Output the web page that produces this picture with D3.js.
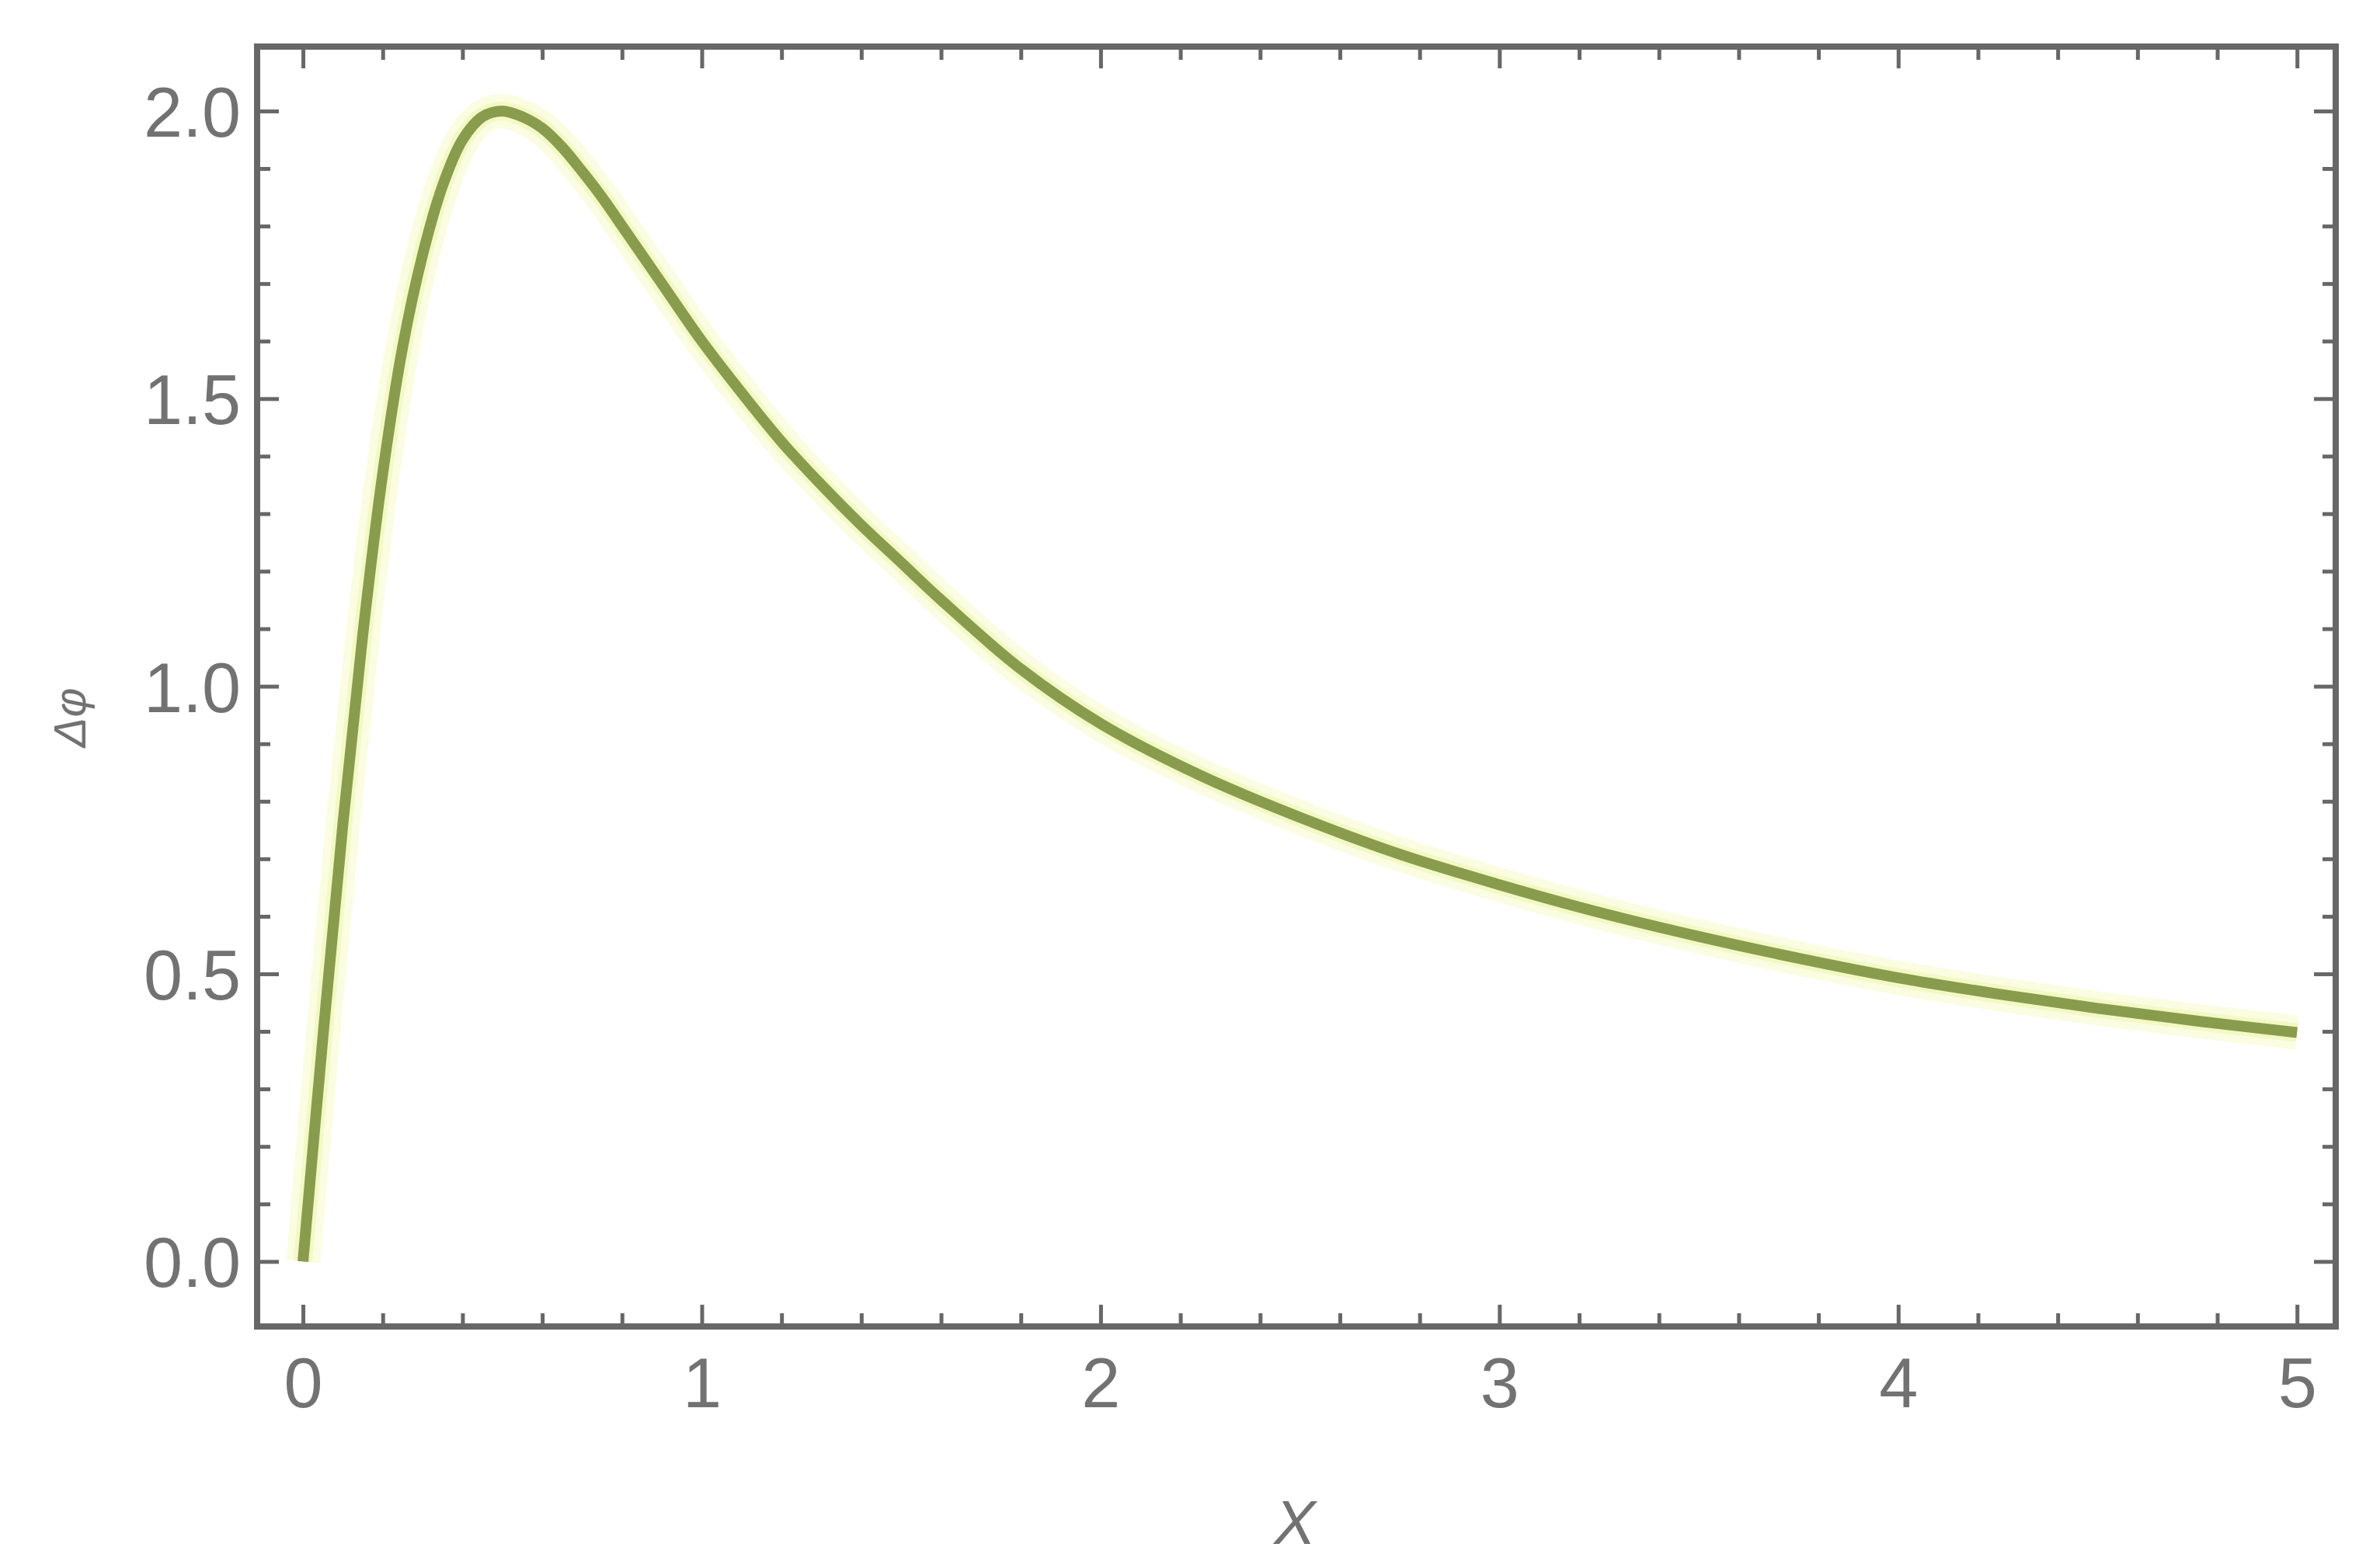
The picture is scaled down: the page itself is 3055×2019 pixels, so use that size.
<!DOCTYPE html>
<html>
<head>
<meta charset="utf-8">
<script src="https://cdn.jsdelivr.net/npm/d3@7"></script>
<style>
  html, body { margin: 0; padding: 0; background: #ffffff; }
  svg { display: block; }
</style>
</head>
<body>
<script>
// ---- data ----
const xValues = [0, 0.05, 0.1, 0.15, 0.2, 0.25, 0.3, 0.35, 0.4, 0.45, 0.5, 0.55, 0.6, 0.65, 0.7, 0.75, 0.8, 0.9,
                 1.0, 1.1, 1.2, 1.3, 1.4, 1.5, 1.6, 1.8, 2.0, 2.25, 2.5, 2.75, 3.0, 3.25, 3.5, 3.75, 4.0, 4.25, 4.5, 4.75, 5.0];
const deltaPhi = [0.00, 0.39, 0.76, 1.09, 1.37, 1.59, 1.75, 1.87, 1.95, 1.99, 2.00, 1.99, 1.97, 1.937, 1.895, 1.85, 1.80, 1.70,
                  1.60, 1.51, 1.425, 1.35, 1.28, 1.215, 1.15, 1.03, 0.935, 0.845, 0.772, 0.708, 0.655, 0.607, 0.565, 0.527, 0.493, 0.465, 0.44, 0.418, 0.398];
const xMajorTicks = [0, 1, 2, 3, 4, 5];
const xTickLabels = ["0", "1", "2", "3", "4", "5"];
const yMajorTicks = [0, 0.5, 1.0, 1.5, 2.0];
const yTickLabels = ["0.0", "0.5", "1.0", "1.5", "2.0"];
const xMinorTicks = [0.2,0.4,0.6,0.8,1.2,1.4,1.6,1.8,2.2,2.4,2.6,2.8,3.2,3.4,3.6,3.8,4.2,4.4,4.6,4.8];
const yMinorTicks = [0.1,0.2,0.3,0.4,0.6,0.7,0.8,0.9,1.1,1.2,1.3,1.4,1.6,1.7,1.8,1.9];
const xAxisLabel = "X";
const yAxisLabel = "Δφ";

// ---- layout ----
const W = 3055, H = 2019;
const frame = { left: 331, right: 3007, top: 60, bottom: 1708 };
const xDomain = [-0.115, 5.097];
const yDomain = [-0.113, 2.112];

const svg = d3.select("body").append("svg").attr("width", W).attr("height", H);

const x = d3.scaleLinear().domain(xDomain).range([frame.left, frame.right]);
const y = d3.scaleLinear().domain(yDomain).range([frame.bottom, frame.top]);

const axisColor = "#676767";
const labelColor = "#727272";
const fontFam = "'Liberation Sans', Arial, sans-serif";

const data = xValues.map((v, i) => ({ x: v, y: deltaPhi[i] }));
const line = d3.line().x(d => x(d.x)).y(d => y(d.y)).curve(d3.curveCatmullRom.alpha(0.5));

// glow / halo of the curve
svg.append("path").datum(data)
  .attr("d", line).attr("fill", "none")
  .attr("stroke", "#f6fbc8").attr("stroke-width", 44).attr("stroke-opacity", 0.55)
  .attr("stroke-linejoin", "round");
svg.append("path").datum(data)
  .attr("d", line).attr("fill", "none")
  .attr("stroke", "#eef6b0").attr("stroke-width", 24).attr("stroke-opacity", 0.6)
  .attr("stroke-linejoin", "round");
// main curve
svg.append("path").datum(data)
  .attr("d", line).attr("fill", "none")
  .attr("stroke", "#899c4e").attr("stroke-width", 14)
  .attr("stroke-linejoin", "round");

// ---- axes (ticks pointing inward on all four sides) ----
function styleAxis(g) {
  g.select(".domain").remove();
  g.selectAll(".tick line").attr("stroke", axisColor).attr("stroke-width", 5);
}

const majLen = 28, minLen = 17;

// bottom major with labels
const gBottom = svg.append("g").attr("transform", `translate(0,${frame.bottom})`)
  .call(d3.axisBottom(x).tickValues(xMajorTicks).tickSize(-majLen).tickPadding(0)
        .tickFormat((d, i) => xTickLabels[i]));
styleAxis(gBottom);
gBottom.selectAll(".tick text")
  .attr("y", 104).attr("dy", null)
  .attr("font-family", fontFam).attr("font-size", 90).attr("fill", labelColor);

svg.append("g").attr("transform", `translate(0,${frame.bottom})`)
  .call(d3.axisBottom(x).tickValues(xMinorTicks).tickSize(-minLen).tickFormat(""))
  .call(styleAxis);

// top
svg.append("g").attr("transform", `translate(0,${frame.top})`)
  .call(d3.axisTop(x).tickValues(xMajorTicks).tickSize(-majLen).tickFormat(""))
  .call(styleAxis);
svg.append("g").attr("transform", `translate(0,${frame.top})`)
  .call(d3.axisTop(x).tickValues(xMinorTicks).tickSize(-minLen).tickFormat(""))
  .call(styleAxis);

// left major with labels
const gLeft = svg.append("g").attr("transform", `translate(${frame.left},0)`)
  .call(d3.axisLeft(y).tickValues(yMajorTicks).tickSize(-majLen).tickPadding(0)
        .tickFormat((d, i) => yTickLabels[i]));
styleAxis(gLeft);
gLeft.selectAll(".tick text")
  .attr("x", -21).attr("dy", "0.36em")
  .attr("font-family", fontFam).attr("font-size", 90).attr("fill", labelColor);

svg.append("g").attr("transform", `translate(${frame.left},0)`)
  .call(d3.axisLeft(y).tickValues(yMinorTicks).tickSize(-minLen).tickFormat(""))
  .call(styleAxis);

// right
svg.append("g").attr("transform", `translate(${frame.right},0)`)
  .call(d3.axisRight(y).tickValues(yMajorTicks).tickSize(-majLen).tickFormat(""))
  .call(styleAxis);
svg.append("g").attr("transform", `translate(${frame.right},0)`)
  .call(d3.axisRight(y).tickValues(yMinorTicks).tickSize(-minLen).tickFormat(""))
  .call(styleAxis);

// frame
svg.append("rect")
  .attr("x", frame.left).attr("y", frame.top)
  .attr("width", frame.right - frame.left).attr("height", frame.bottom - frame.top)
  .attr("fill", "none").attr("stroke", axisColor).attr("stroke-width", 8);

// axis labels
svg.append("text")
  .attr("x", 1667).attr("y", 1988)
  .attr("text-anchor", "middle")
  .attr("font-family", fontFam).attr("font-style", "italic").attr("font-size", 80)
  .attr("fill", labelColor).text(xAxisLabel);

svg.append("text")
  .attr("transform", `translate(110,${(frame.top + frame.bottom) / 2 + 40}) rotate(-90)`)
  .attr("text-anchor", "middle")
  .attr("font-family", fontFam).attr("font-style", "italic").attr("font-size", 58)
  .attr("fill", labelColor).text(yAxisLabel);
</script>
</body>
</html>
